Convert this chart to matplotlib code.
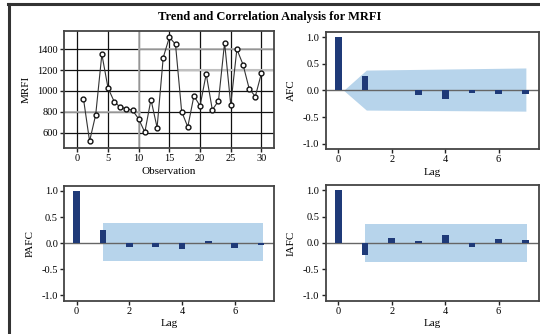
import matplotlib
matplotlib.use('Agg')
import matplotlib.pyplot as plt
from matplotlib.lines import Line2D

plt.rcParams['font.family'] = ['Liberation Serif', 'DejaVu Serif']
plt.rcParams['axes.unicode_minus'] = False

# data
obs = list(range(1, 31))
mrfi = [926, 517, 773, 1352, 1029, 898, 843, 830, 814, 731,
        603, 917, 648, 1320, 1515, 1448, 802, 654, 952, 856,
        1163, 818, 904, 1464, 866, 1400, 1253, 1022, 946, 1170]

lags = [0, 1, 2, 3, 4, 5, 6, 7]
acf = [1.0, 0.27, 0.0, -0.095, -0.17, -0.05, -0.075, -0.075]
pacf = [1.0, 0.25, -0.075, -0.075, -0.11, 0.05, -0.093, -0.037]
iacf = [1.0, -0.24, 0.095, 0.04, 0.15, -0.075, 0.075, 0.057]

acf_band_x = [0.2, 1.05, 7.02]
acf_band_hi = [0.0, 0.38, 0.42]
acf_band_lo = [0.0, -0.37, -0.39]
pacf_band = (0.99, 7.07, -0.335, 0.385)
iacf_band = (1.0, 7.08, -0.37, 0.36)

W, H = 540, 334
BAR = '#1f3a78'
BAND = '#b7d4eb'
SPINE = '#444444'

fig = plt.figure(figsize=(W / 100, H / 100), dpi=100)


def box(l, t, r, b):
    return fig.add_axes([l / W, 1 - b / H, (r - l) / W, (b - t) / H])


def style(ax):
    for s in ax.spines.values():
        s.set_color(SPINE)
        s.set_linewidth(1.3)
    ax.tick_params(direction='out', length=3, width=1, color='#222222',
                   labelsize=7.5, pad=1.5)


# outer frame
fig.add_artist(Line2D([8 / W, 1], [1 - 3.5 / H, 1 - 3.5 / H], color='#333333', lw=2.2))
fig.add_artist(Line2D([9 / W, 9 / W], [0, 1 - 3.5 / H], color='#333333', lw=2.2))

fig.text(0.5, 1 - 17 / H, 'Trend and Correlation Analysis for MRFI',
         ha='center', va='center', fontsize=9, fontweight='bold')

# time series
ax = box(64.3, 31, 273.7, 148)
style(ax)
ax.set_xlim(-2.12, 32.0)
ax.set_ylim(452, 1575)
ax.set_xticks([0, 5, 10, 15, 20, 25, 30])
ax.set_yticks([600, 800, 1000, 1200, 1400])
ax.grid(True, color='#111111', lw=0.9)
ax.set_axisbelow(True)
ax.axvline(10, color='#b0b0b0', lw=1.2, zorder=1)
ax.axhline(1400, xmin=0.36, xmax=1, color='#b0b0b0', lw=1.2, zorder=1)
ax.axhline(1200, xmin=0.55, xmax=1, color='#c0c0c0', lw=1.5, zorder=1)
ax.axhline(800, xmin=0, xmax=0.36, color='#b0b0b0', lw=1.2, zorder=1)
ax.plot(obs, mrfi, color='#333333', lw=0.8, marker='o', markersize=3.5,
        markerfacecolor='white', markeredgecolor='#111111', markeredgewidth=1)
ax.set_xlabel('Observation', fontsize=8, labelpad=2.5)
ax.set_ylabel('MRFI', fontsize=8, labelpad=5)


def corr_panel(rect, vals, label):
    a = box(*rect)
    style(a)
    a.set_xlim(-0.47, 7.5)
    a.set_ylim(-1.1, 1.1)
    a.set_xticks([0, 2, 4, 6])
    a.set_yticks([-1.0, -0.5, 0.0, 0.5, 1.0])
    a.set_yticklabels(['-1.0', '-0.5', '0.0', '0.5', '1.0'])
    a.axhline(0, color='#666666', lw=1, zorder=2)
    a.bar(lags, vals, width=0.25, color=BAR, zorder=3)
    a.set_xlabel('Lag', fontsize=8, labelpad=2.5)
    a.set_ylabel(label, fontsize=8, labelpad=5)
    return a


ax = corr_panel((325.7, 31.7, 538.7, 149), acf, 'AFC')
ax.fill_between(acf_band_x, acf_band_lo, acf_band_hi, color=BAND, lw=0, zorder=1)

ax = corr_panel((64.3, 185.7, 274.3, 300.7), pacf, 'PAFC')
x0, x1, lo, hi = pacf_band
ax.fill_between([x0, x1], [lo, lo], [hi, hi], color=BAND, lw=0, zorder=1)

ax = corr_panel((325.7, 185, 538.7, 300.7), iacf, 'IAFC')
x0, x1, lo, hi = iacf_band
ax.fill_between([x0, x1], [lo, lo], [hi, hi], color=BAND, lw=0, zorder=1)

fig.savefig('out.png', dpi=100)
